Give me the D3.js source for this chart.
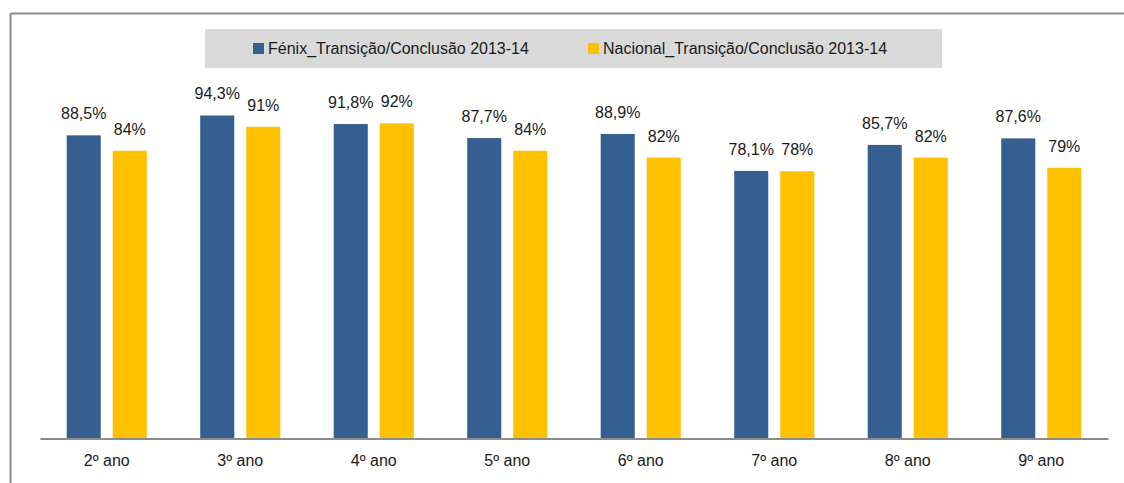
<!DOCTYPE html>
<html>
<head>
<meta charset="utf-8">
<script src="https://cdn.jsdelivr.net/npm/d3@7"></script>
<style>
  body { margin: 0; background: #fff; }
  svg text { font-family: "Liberation Sans", Arial, sans-serif; fill: #1a1a1a; }
</style>
</head>
<body>
<svg id="chart" width="1124" height="483"></svg>
<script>
const width = 1124, height = 483;
const margin = { left: 40, right: 16, top: 96, bottom: 45 };

// data
const categories = ["2º ano", "3º ano", "4º ano", "5º ano", "6º ano", "7º ano", "8º ano", "9º ano"];
const seriesNames = ["Fénix_Transição/Conclusão 2013-14", "Nacional_Transição/Conclusão 2013-14"];
const fenix = [88.5, 94.3, 91.8, 87.7, 88.9, 78.1, 85.7, 87.6];
const nacional = [84, 91, 92, 84, 82, 78, 82, 79];
const fenixLabels = ["88,5%", "94,3%", "91,8%", "87,7%", "88,9%", "78,1%", "85,7%", "87,6%"];
const nacionalLabels = ["84%", "91%", "92%", "84%", "82%", "78%", "82%", "79%"];
const colors = ["#365F91", "#FFC000"];

const rows = categories.map((c, i) => ({
    cat: c,
    values: [
        { s: 0, v: fenix[i], label: fenixLabels[i] },
        { s: 1, v: nacional[i], label: nacionalLabels[i] }
    ]
}));

const svg = d3.select('#chart');

// outer frame (only top and left edges show)
svg.append('line').attr('x1', 10.5).attr('x2', width).attr('y1', 13.5).attr('y2', 13.5)
    .attr('stroke', '#8c8c8c').attr('stroke-width', 2);
svg.append('line').attr('x1', 10.5).attr('x2', 10.5).attr('y1', 13.5).attr('y2', height)
    .attr('stroke', '#8c8c8c').attr('stroke-width', 2);

const x = d3.scaleBand()
    .domain(categories)
    .range([margin.left, width - margin.right]);

const xSub = d3.scaleBand()
    .domain([0, 1])
    .range([26.7, x.bandwidth() - 26.7])
    .paddingInner(0.26);

const y = d3.scaleLinear()
    .domain([0, 100])
    .range([height - margin.bottom, height - margin.bottom - 342]);

// bars
const groups = svg.append('g')
    .selectAll('g')
    .data(rows)
    .join('g')
    .attr('transform', d => `translate(${x(d.cat)}, 0)`);

groups.selectAll('rect')
    .data(d => d.values)
    .join('rect')
    .attr('x', d => xSub(d.s))
    .attr('width', xSub.bandwidth())
    .attr('y', d => y(d.v))
    .attr('height', d => y(0) - y(d.v))
    .attr('fill', d => colors[d.s]);

groups.selectAll('text')
    .data(d => d.values)
    .join('text')
    .attr('x', d => xSub(d.s) + xSub.bandwidth() / 2)
    .attr('y', d => y(d.v) - 16)
    .attr('text-anchor', 'middle')
    .style('font-size', '16px')
    .text(d => d.label);

// x axis
const xAxis = svg.append('g')
    .attr('transform', `translate(0, ${y(0) + 0.5})`)
    .call(d3.axisBottom(x).tickSize(0).tickPadding(16));
xAxis.select('.domain').attr('stroke', '#8c8c8c').attr('stroke-width', 2);
xAxis.selectAll('text').style('font-size', '16px').style('fill', '#1a1a1a')
    .style('font-family', '"Liberation Sans", Arial, sans-serif');

// legend
const legend = svg.append('g');
legend.append('rect')
    .attr('x', 205).attr('y', 29).attr('width', 737).attr('height', 39)
    .attr('fill', '#d9d9d9');
const legendX = [253, 588];
seriesNames.forEach((name, i) => {
    legend.append('rect')
        .attr('x', legendX[i]).attr('y', 43).attr('width', 11).attr('height', 11)
        .attr('fill', colors[i]);
    legend.append('text')
        .attr('x', legendX[i] + 15).attr('y', 48.5)
        .attr('dy', '0.35em')
        .style('font-size', '16px')
        .text(name);
});
</script>
</body>
</html>
